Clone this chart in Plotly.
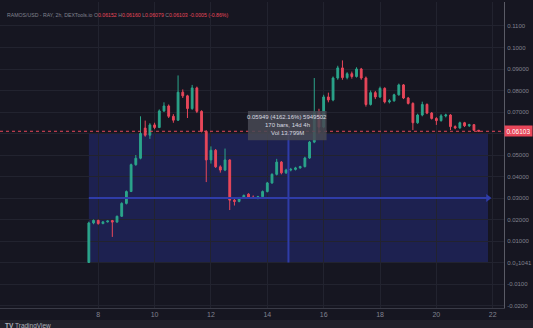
import pandas as pd
import plotly.graph_objects as go

# ---------------- data ----------------
start_time = "2023-03-07 16:00"
bar_freq = "4h"
opens = [0.00001, 0.0184, 0.0196, 0.0181, 0.0189, 0.0195, 0.0188, 0.0215, 0.0275, 0.0330,
         0.0455, 0.0485, 0.0625, 0.0592, 0.0640, 0.0628, 0.0705, 0.0728, 0.0680, 0.0662,
         0.0792, 0.0775, 0.0716, 0.0812, 0.0703, 0.0610, 0.0477, 0.0522, 0.0445, 0.0430,
         0.0477, 0.0290, 0.0284, 0.0300, 0.0318, 0.0304, 0.0300, 0.0306, 0.0330, 0.0370,
         0.0410, 0.0467, 0.0417, 0.0430, 0.0433, 0.0440, 0.0446, 0.0486, 0.0560, 0.0700,
         0.0630, 0.0770, 0.0756, 0.0858, 0.0905, 0.0860, 0.0878, 0.0865, 0.0900, 0.0858,
         0.0735, 0.0790, 0.0770, 0.0810, 0.0747, 0.0752, 0.0780, 0.0826, 0.0765, 0.0740,
         0.0650, 0.0686, 0.0735, 0.0695, 0.0670, 0.0660, 0.0682, 0.0686, 0.0632, 0.0626,
         0.0650, 0.0636, 0.0641, 0.06152]
highs = [0.0190, 0.0200, 0.0199, 0.0191, 0.0195, 0.0198, 0.0218, 0.0280, 0.0335, 0.0460,
         0.0500, 0.0680, 0.0660, 0.0648, 0.0650, 0.0712, 0.0745, 0.0735, 0.0690, 0.0870,
         0.0805, 0.0780, 0.0826, 0.0818, 0.0708, 0.0615, 0.0540, 0.0528, 0.0452, 0.0530,
         0.0480, 0.0298, 0.0305, 0.0316, 0.0322, 0.0312, 0.0310, 0.0335, 0.0375, 0.0415,
         0.0482, 0.0472, 0.0436, 0.0440, 0.0445, 0.0450, 0.0492, 0.0565, 0.0858, 0.0715,
         0.0780, 0.0790, 0.0865, 0.0915, 0.0940, 0.0885, 0.0888, 0.0908, 0.0905, 0.0865,
         0.0800, 0.0798, 0.0818, 0.0815, 0.0760, 0.0785, 0.0832, 0.0830, 0.0770, 0.0745,
         0.0692, 0.0748, 0.0740, 0.0700, 0.0676, 0.0690, 0.0692, 0.0690, 0.0638, 0.0655,
         0.0654, 0.0645, 0.0644, 0.06160]
lows = [0.00001041, 0.0178, 0.0176, 0.0178, 0.0186, 0.0119, 0.0185, 0.0212, 0.0270, 0.0328,
        0.0450, 0.0480, 0.0585, 0.0575, 0.0620, 0.0625, 0.0700, 0.0672, 0.0650, 0.0658,
        0.0765, 0.0672, 0.0710, 0.0695, 0.0605, 0.0374, 0.0460, 0.0440, 0.0418, 0.0425,
        0.0244, 0.0265, 0.0280, 0.0296, 0.0300, 0.0296, 0.0294, 0.0302, 0.0326, 0.0366,
        0.0405, 0.0410, 0.0412, 0.0424, 0.0428, 0.0436, 0.0442, 0.0482, 0.0555, 0.0600,
        0.0625, 0.0745, 0.0750, 0.0850, 0.0850, 0.0852, 0.0855, 0.0860, 0.0850, 0.0725,
        0.0730, 0.0760, 0.0765, 0.0740, 0.0740, 0.0748, 0.0776, 0.0760, 0.0735, 0.0616,
        0.0645, 0.0680, 0.0690, 0.0665, 0.0640, 0.0655, 0.0675, 0.0616, 0.0620, 0.0622,
        0.0630, 0.0630, 0.0612, 0.06079]
closes = [0.0184, 0.0196, 0.0181, 0.0189, 0.0193, 0.0188, 0.0215, 0.0275, 0.0330, 0.0455,
          0.0485, 0.0600, 0.0592, 0.0640, 0.0628, 0.0705, 0.0728, 0.0680, 0.0662, 0.0792,
          0.0775, 0.0716, 0.0812, 0.0703, 0.0610, 0.0477, 0.0522, 0.0445, 0.0430, 0.0477,
          0.0290, 0.0284, 0.0300, 0.0312, 0.0304, 0.0300, 0.0306, 0.0330, 0.0370, 0.0410,
          0.0467, 0.0417, 0.0430, 0.0433, 0.0440, 0.0446, 0.0486, 0.0560, 0.0700, 0.0630,
          0.0770, 0.0756, 0.0858, 0.0905, 0.0860, 0.0878, 0.0865, 0.0900, 0.0858, 0.0735,
          0.0790, 0.0770, 0.0810, 0.0747, 0.0752, 0.0780, 0.0826, 0.0765, 0.0740, 0.0650,
          0.0686, 0.0735, 0.0695, 0.0670, 0.0660, 0.0682, 0.0686, 0.0632, 0.0626, 0.0650,
          0.0636, 0.0641, 0.0615, 0.06103]

last_price = 0.06103
range_low = 0.00001041
range_high = 0.0600
range_end = "2023-03-21 20:00"

y_tickvals = [0.11, 0.10, 0.09, 0.08, 0.07, 0.06, 0.05, 0.04, 0.03, 0.02, 0.01, 0.0, -0.01, -0.02]
y_ticktext = ["0.1100", "0.1000", "0.09000", "0.08000", "0.07000", "", "0.05000", "0.04000",
              "0.03000", "0.02000", "0.01000", "0.0\u20841041", "-0.0100", "-0.0200"]
x_tickdays = [8, 10, 12, 14, 16, 18, 20, 22]
x_ticktext = ["8", "10", "12", "14", "16", "18", "20", "22"]

header_name = "RAMOS/USD - RAY, 2h, DEXTools.io"
header_ohlc = [("O", "0.06152"), ("H", "0.06160"), ("L", "0.06079"), ("C", "0.06103")]
header_change = "-0.0005 (-0.86%)"
tooltip_lines = ["0.05949 (4162.16%) 5949502", "170 bars, 14d 4h", "Vol 13.799M"]

# ---------------- figure ----------------
times = pd.date_range(start=start_time, periods=len(closes), freq=bar_freq)
x_tickvals = [pd.Timestamp(2023, 3, d) for d in x_tickdays]

BG = "#161621"
GRID = "#22232f"
TXT = "#80828f"
GREEN = "#2ba58b"
RED = "#e8475a"
BLUE = "#2f3ca8"
FONT = "Liberation Sans"

fig = go.Figure()

t0 = times[0]
t1 = pd.Timestamp(range_end)
tmid = t0 + (t1 - t0) / 2
ymid = (range_low + range_high) / 2

# range tool rectangle (under the candles)
fig.add_shape(type="rect", x0=t0, x1=t1, y0=range_low, y1=range_high,
              fillcolor="rgba(46,58,190,0.30)", line=dict(width=0), layer="below")

fig.add_trace(go.Candlestick(
    x=times, open=opens, high=highs, low=lows, close=closes,
    increasing=dict(line=dict(color=GREEN, width=1), fillcolor=GREEN),
    decreasing=dict(line=dict(color=RED, width=1), fillcolor=RED),
    whiskerwidth=0, showlegend=False, hoverinfo="skip"))

# range tool cross lines
fig.add_trace(go.Scatter(x=[t0, t1], y=[ymid, ymid], mode="lines",
                         line=dict(color=BLUE, width=2), showlegend=False, hoverinfo="skip"))
fig.add_trace(go.Scatter(x=[tmid, tmid], y=[range_low, range_high], mode="lines",
                         line=dict(color=BLUE, width=2), showlegend=False, hoverinfo="skip"))
fig.add_trace(go.Scatter(x=[tmid], y=[range_high], mode="markers",
                         marker=dict(symbol="triangle-up", size=7, color=BLUE),
                         showlegend=False, hoverinfo="skip"))
fig.add_trace(go.Scatter(x=[t1], y=[ymid], mode="markers",
                         marker=dict(symbol="triangle-right", size=7, color=BLUE),
                         showlegend=False, hoverinfo="skip"))

# last price dashed line
fig.add_shape(type="line", xref="paper", x0=0, x1=1, y0=last_price, y1=last_price,
              line=dict(color=RED, width=1, dash="dot"))

# tooltip box of range tool
box_x0 = pd.Timestamp("2023-03-13 07:30")
box_x1 = pd.Timestamp("2023-03-16 02:30")
fig.add_shape(type="rect", x0=box_x0, x1=box_x1, y0=0.0569, y1=0.0705,
              fillcolor="rgba(72,73,84,0.85)", line=dict(width=0), layer="above")
box_mid = box_x0 + (box_x1 - box_x0) / 2
for k, line in enumerate(tooltip_lines):
    fig.add_annotation(x=box_mid, y=0.0705, yanchor="middle", xanchor="center",
                       yshift=-6 - 8 * k, text=line, showarrow=False,
                       font=dict(size=6, color="#d8d9e0", family=FONT))

# header legend
hdr = f'<span style="color:{TXT}">{header_name}</span>'
for lab, val in header_ohlc:
    hdr += f' <span style="color:{TXT}">{lab}</span><span style="color:{RED}">{val}</span>'
hdr += f' <span style="color:{RED}">{header_change}</span>'
fig.add_annotation(xref="paper", yref="paper", x=0, y=1, xanchor="left", yanchor="top",
                   xshift=5, yshift=-8, text=hdr, showarrow=False,
                   font=dict(size=5.2, family=FONT))

# last price tag
fig.add_annotation(xref="paper", x=1, y=last_price, xanchor="left", yanchor="middle",
                   xshift=0, text=f"{last_price:.5f}", showarrow=False,
                   font=dict(size=6.5, color="white", family=FONT),
                   bgcolor=RED, borderpad=1.5)

# bottom strip with logo
fig.add_shape(type="rect", xref="paper", yref="paper", x0=-0.01, x1=1.07, y0=-0.0392, y1=-0.08,
              fillcolor="#21212b", line=dict(width=0))
fig.add_annotation(xref="paper", yref="paper", x=0, y=-0.039, xanchor="left", yanchor="top",
                   xshift=3, yshift=0, text="<b>TV</b> TradingView", showarrow=False,
                   font=dict(size=6.5, color="#b0b2bc", family=FONT))

fig.update_layout(
    width=533, height=328,
    margin=dict(l=0, r=29, t=2, b=20, autoexpand=False),
    paper_bgcolor=BG, plot_bgcolor=BG,
    showlegend=False,
    boxgap=0.45,
    xaxis=dict(
        range=[pd.Timestamp("2023-03-04 12:20"), pd.Timestamp("2023-03-22 09:36")],
        rangeslider=dict(visible=False),
        tickvals=x_tickvals, ticktext=x_ticktext,
        showgrid=True, gridcolor=GRID, gridwidth=1,
        showline=True, linecolor="#3a3b47", linewidth=1, mirror=False,
        ticks="", tickfont=dict(size=7, color=TXT, family=FONT),
        zeroline=False, fixedrange=True,
    ),
    yaxis=dict(
        side="right", range=[-0.02116, 0.12116],
        tickvals=y_tickvals, ticktext=y_ticktext,
        showgrid=True, gridcolor=GRID, gridwidth=1,
        showline=True, linecolor="#5a5b66", linewidth=1,
        ticks="", ticklabelstandoff=1,
        tickfont=dict(size=6, color=TXT, family=FONT),
        zeroline=False, fixedrange=True,
    ),
)

fig.write_html("out.html")
